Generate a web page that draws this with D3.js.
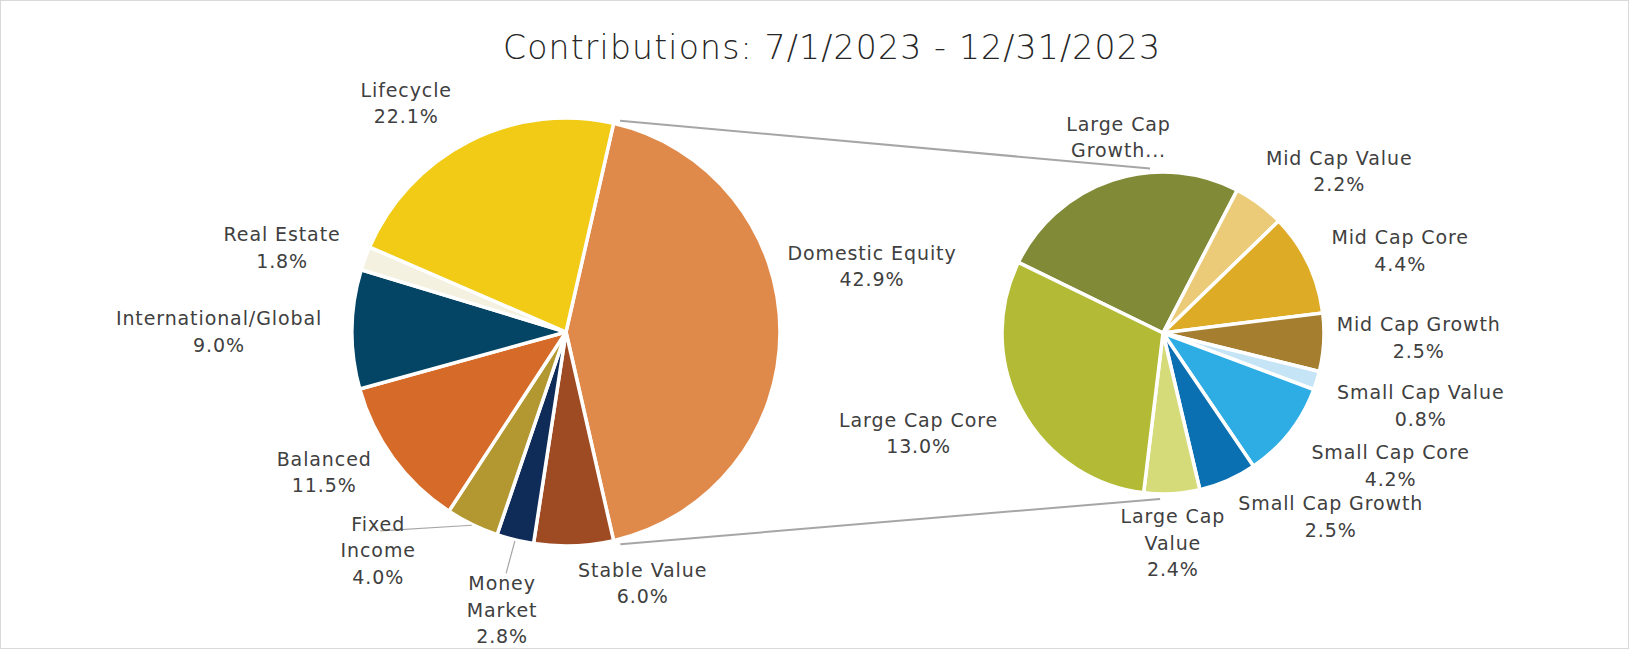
<!DOCTYPE html>
<html>
<head>
  <script src="https://d3js.org/d3.v7.min.js" type="text/javascript"></script>
  <style>
    body { margin: 0; background: #fff; }
    text { font-family: "DejaVu Sans", sans-serif; fill: #404040; }
  </style>
</head>
<body>
<svg id="chart" width="1629" height="649"></svg>

<script type="text/javascript">
  // main pie, clockwise from the split slice
  var mainNames  = ["Domestic Equity", "Stable Value", "Money Market", "Fixed Income",
                    "Balanced", "International/Global", "Real Estate", "Lifecycle"];
  var mainValues = [42.9, 6.0, 2.8, 4.0, 11.5, 9.0, 1.8, 22.1];
  var mainColors = ["#DF8A4B", "#9E4B23", "#0F2B57", "#B39730",
                    "#D66A28", "#044566", "#F4F1E1", "#F1CB16"];

  // second pie: Domestic Equity broken out
  var subNames  = ["Large Cap Growth", "Mid Cap Value", "Mid Cap Core", "Mid Cap Growth",
                   "Small Cap Value", "Small Cap Core", "Small Cap Growth", "Large Cap Value", "Large Cap Core"];
  var subValues = [10.9, 2.2, 4.4, 2.5, 0.8, 4.2, 2.5, 2.4, 13.0];
  var subColors = ["#818A36", "#EBCB78", "#DDAB26", "#A57E30",
                   "#C5E4F6", "#2DADE3", "#0B70B2", "#D6DB7A", "#B3BA35"];

  var title = "Contributions: 7/1/2023 - 12/31/2023";

  // how labels wrap (Excel word-wraps a few of them)
  var wrapLines = {
    "Fixed Income": ["Fixed", "Income"],
    "Money Market": ["Money", "Market"],
    "Large Cap Value": ["Large Cap", "Value"],
    "Large Cap Growth": ["Large Cap", "Growth..."]
  };
  var noValue = {"Large Cap Growth": true};

  // label offsets from the slice edge (best-fit placement in the original)
  var mainNudge = {
    "Domestic Equity": [92, -66], "Stable Value": [69, 37], "Money Market": [-13, 70],
    "Fixed Income": [-94, 26], "Balanced": [-69, 14], "International/Global": [-133, 2],
    "Real Estate": [-83, -11], "Lifecycle": [-63, -38]
  };
  var subNudge = {
    "Large Cap Growth": [6, -43], "Mid Cap Value": [80, -33], "Mid Cap Core": [92, -13],
    "Mid Cap Growth": [95, -5], "Small Cap Value": [104, 25], "Small Cap Core": [101, 33],
    "Small Cap Growth": [103, 36], "Large Cap Value": [1, 49], "Large Cap Core": [-103, 23]
  };
  var leaders = {"Fixed Income": "side", "Money Market": "top"};

  var svg = d3.select("#chart"),
      width = +svg.attr("width"),
      height = +svg.attr("height");

  var lineH = 26.5;
  var fontSize = 19;

  svg.append("rect")
     .attr("x", 0.5).attr("y", 0.5)
     .attr("width", width - 1).attr("height", height - 1)
     .attr("fill", "#fff").attr("stroke", "#D9D9D9");

  svg.append("text")
     .attr("x", 832).attr("y", 47)
     .attr("text-anchor", "middle")
     .attr("dominant-baseline", "central")
     .style("font-size", "33px")
     .style("font-weight", 300)
     .style("letter-spacing", "1.2px")
     .style("fill", "#262626")
     .text(title);

  var deg = Math.PI / 180;
  function polar(c, r, a) { return [c[0] + r * Math.sin(a), c[1] - r * Math.cos(a)]; }

  var mainC = [566, 332], mainR = 214;
  var subC = [1163, 333], subR = 161;

  // split slice centred on 3 o'clock
  var mainStart = Math.PI / 2 - Math.PI * mainValues[0] / d3.sum(mainValues);
  var subStart = -64 * deg;

  function drawPie(names, values, colors, c, r, start, nudge, pct) {
    var data = names.map(function(n, i) { return {name: n, value: values[i], color: colors[i]}; });
    var pie = d3.pie().sort(null).value(function(d) { return d.value; })
                .startAngle(start).endAngle(start + 2 * Math.PI);
    var arcs = pie(data);
    var arc = d3.arc().innerRadius(0).outerRadius(r);

    var g = svg.append("g").attr("transform", "translate(" + c[0] + "," + c[1] + ")");
    g.selectAll("path")
      .data(arcs)
      .enter().append("path")
        .attr("d", arc)
        .attr("fill", function(d) { return d.data.color; })
        .attr("stroke", "#fff")
        .attr("stroke-width", 3.5)
        .attr("stroke-linejoin", "round");

    arcs.forEach(function(d) {
      var mid = (d.startAngle + d.endAngle) / 2;
      var edge = polar(c, r, mid);
      var nd = nudge[d.data.name];
      var lx = edge[0] + nd[0], ly = edge[1] + nd[1];
      var lines = (wrapLines[d.data.name] || [d.data.name]).slice();
      if (!noValue[d.data.name]) lines.push(pct(d.data.value));
      var y0 = ly - (lines.length - 1) / 2 * lineH;

      var lead = leaders[d.data.name];
      if (lead) {
        var p0 = polar(c, r + 1, mid);
        var p1 = lead === "side" ? [lx + 2, y0 + 7] : [lx + 4, y0 - 10];
        svg.append("line")
           .attr("x1", p0[0]).attr("y1", p0[1])
           .attr("x2", p1[0]).attr("y2", p1[1])
           .attr("stroke", "#A6A6A6").attr("stroke-width", 1.2);
      }

      var t = svg.append("text")
        .attr("text-anchor", "middle")
        .style("font-size", fontSize + "px")
        .style("letter-spacing", "0.9px");
      lines.forEach(function(s, i) {
        t.append("tspan")
         .attr("x", lx)
         .attr("y", y0 + i * lineH)
         .attr("dominant-baseline", "central")
         .text(s);
      });
    });
    return arcs;
  }

  var fmt = d3.format(".1f");
  var pct = function(v) { return fmt(v) + "%"; };

  var mainArcs = drawPie(mainNames, mainValues, mainColors, mainC, mainR, mainStart, mainNudge, pct);
  drawPie(subNames, subValues, subColors, subC, subR, subStart, subNudge, pct);

  // connector lines between the split slice and the second pie
  var split = mainArcs[0];
  var conn = [
    [polar(mainC, mainR + 4, split.startAngle + 1.5 * deg), polar(subC, subR + 4, -4.5 * deg)],
    [polar(mainC, mainR + 5, split.endAngle - 1.5 * deg), polar(subC, subR + 5, 181 * deg)]
  ];
  svg.selectAll("line.conn")
    .data(conn)
    .enter().append("line")
      .attr("class", "conn")
      .attr("x1", function(d) { return d[0][0]; })
      .attr("y1", function(d) { return d[0][1]; })
      .attr("x2", function(d) { return d[1][0]; })
      .attr("y2", function(d) { return d[1][1]; })
      .attr("stroke", "#A6A6A6")
      .attr("stroke-width", 2);
</script>
</body>
</html>
